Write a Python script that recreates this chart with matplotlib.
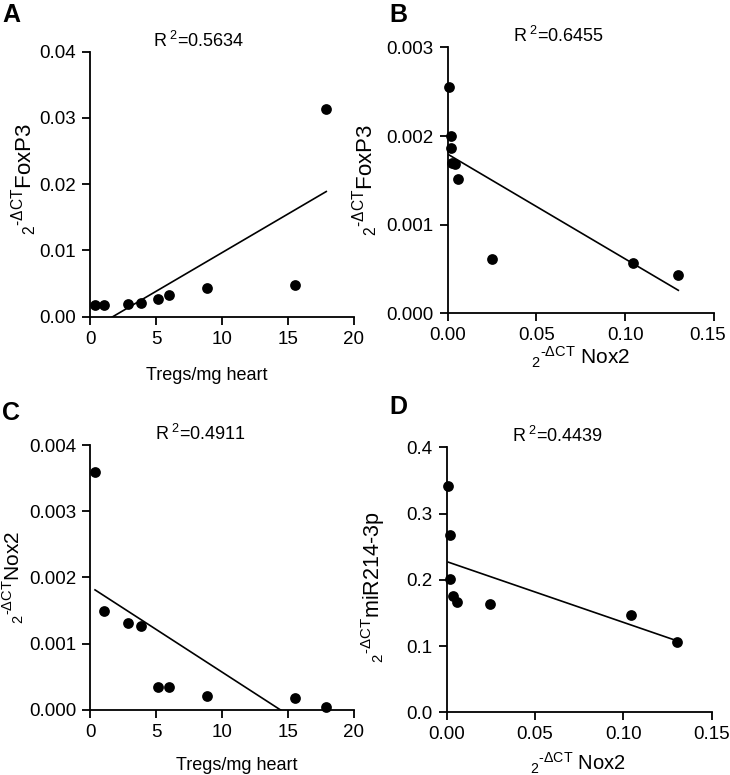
import numpy as np
import matplotlib
matplotlib.use("Agg")
import matplotlib.pyplot as plt
import matplotlib.transforms as mtransforms

plt.rcParams['font.family'] = ['Liberation Sans', 'DejaVu Sans']
plt.rcParams['mathtext.fontset'] = 'custom'
plt.rcParams['mathtext.rm'] = 'Liberation Sans'
plt.rcParams['mathtext.it'] = 'Liberation Sans'
plt.rcParams['mathtext.bf'] = 'Liberation Sans:bold'

# Panel A: Tregs/mg heart vs FoxP3
tregs = [0.38, 1.08, 2.9, 3.9, 5.12, 6.0, 8.85, 15.5, 17.9]
foxp3_a = [0.00176, 0.00176, 0.0019, 0.0020, 0.0026, 0.0032, 0.0044, 0.0048, 0.0314]

# Panel B: Nox2 vs FoxP3
nox2_b = [0.0007, 0.0017, 0.0017, 0.0023, 0.0041, 0.0060, 0.0248, 0.1042, 0.1299]
foxp3_b = [0.00255, 0.00200, 0.001865, 0.00169, 0.00168, 0.00151, 0.000609, 0.000568, 0.000432]

# Panel C: Tregs/mg heart vs Nox2
nox2_c = [0.0036, 0.0015, 0.00131, 0.00127, 0.00035, 0.00034, 0.00021, 0.00018, 0.00005]

# Panel D: Nox2 vs miR214-3p
nox2_d = [0.0009, 0.0019, 0.0019, 0.0037, 0.0060, 0.0245, 0.1043, 0.1306]
mir214 = [0.3417, 0.2672, 0.2008, 0.1756, 0.1665, 0.1640, 0.1464, 0.1067]

r2_labels = ['0.5634', '0.6455', '0.4911', '0.4439']
panel_letters = ['A', 'B', 'C', 'D']

fig = plt.figure(figsize=(7.3, 7.75), dpi=100)

rects = [
    [0.1233, 0.5914, 0.3616, 0.3419],
    [0.6133, 0.5957, 0.3648, 0.3432],
    [0.1233, 0.0839, 0.3616, 0.3419],
    [0.6119, 0.0809, 0.3630, 0.3419],
]

specs = [
    dict(x=tregs, y=foxp3_a, xlim=(0, 20), ylim=(0, 0.04), xt=[0, 5, 10, 15, 20],
         yt=[0, 0.01, 0.02, 0.03, 0.04], xf='{:.0f}', yf='{:.2f}'),
    dict(x=nox2_b, y=foxp3_b, xlim=(0, 0.15), ylim=(0, 0.003), xt=[0, 0.05, 0.10, 0.15],
         yt=[0, 0.001, 0.002, 0.003], xf='{:.2f}', yf='{:.3f}'),
    dict(x=tregs, y=nox2_c, xlim=(0, 20), ylim=(0, 0.004), xt=[0, 5, 10, 15, 20],
         yt=[0, 0.001, 0.002, 0.003, 0.004], xf='{:.0f}', yf='{:.3f}'),
    dict(x=nox2_d, y=mir214, xlim=(0, 0.15), ylim=(0, 0.4), xt=[0, 0.05, 0.10, 0.15],
         yt=[0, 0.1, 0.2, 0.3, 0.4], xf='{:.2f}', yf='{:.1f}'),
]

ylabels = [
    r'$\mathregular{_{2}{}^{\text{-}\Delta CT}FoxP3}$',
    r'$\mathregular{_{2}{}^{\text{-}\Delta CT}FoxP3}$',
    r'$\mathregular{_{2}{}^{\text{-}\Delta CT}Nox2}$',
    r'$\mathregular{_{2}{}^{\text{-}\Delta CT}miR214\text{-}3p}$',
]
xlabels = [
    'Tregs/mg heart',
    r'$\mathregular{_{2}{}^{\text{-}\Delta CT}\ Nox2}$',
    'Tregs/mg heart',
    r'$\mathregular{_{2}{}^{\text{-}\Delta CT}\ Nox2}$',
]
xlabel_size = [13, 15, 13, 14.5]
ylabel_size = [16, 16, 15, 15.5]
ylabel_xy = [(-0.193, 0.52), (-0.254, 0.5), (-0.243, 0.5), (-0.225, 0.473)]
xlabel_xy = [(0.443, -0.19), (0.50, -0.119), (0.557, -0.177), (0.495, -0.146)]
r2_pos = [(0.413, 1.018), (0.416, 1.021), (0.417, 1.019), (0.42, 1.021)]
letter_pos = [(2 / 730, 1 - 3 / 775), (389 / 730, 1 - 3 / 775),
              (2 / 730, 1 - 401 / 775), (389 / 730, 1 - 395 / 775)]

for i, (rect, sp) in enumerate(zip(rects, specs)):
    ax = fig.add_axes(rect)
    x = np.array(sp['x']); y = np.array(sp['y'])
    ax.scatter(x, y, s=60, color='black', zorder=3, clip_on=False, linewidths=0)
    k, b = np.polyfit(x, y, 1)
    xx = np.array([x.min(), x.max()])
    ax.plot(xx, k * xx + b, color='black', lw=1.2, zorder=2)
    ax.set_xlim(*sp['xlim']); ax.set_ylim(*sp['ylim'])
    ax.set_xticks(sp['xt']); ax.set_yticks(sp['yt'])
    ax.set_xticklabels([sp['xf'].format(v) for v in sp['xt']])
    ax.set_yticklabels([sp['yf'].format(v) for v in sp['yt']])
    for s in ['top', 'right']:
        ax.spines[s].set_visible(False)
    for s in ['left', 'bottom']:
        ax.spines[s].set_linewidth(1.3)
    ax.tick_params(direction='out', length=6, width=1.3, labelsize=13.5, pad=4)
    if i == 1:
        lbl = ax.get_xticklabels()[-1]
        lbl.set_transform(lbl.get_transform() +
                          mtransforms.ScaledTranslation(-6 / 100, 0, fig.dpi_scale_trans))
    ax.set_xlabel(xlabels[i], fontsize=xlabel_size[i], va='top')
    ax.xaxis.set_label_coords(*xlabel_xy[i])
    ax.set_ylabel(ylabels[i], fontsize=ylabel_size[i])
    ax.yaxis.set_label_coords(*ylabel_xy[i])
    ax.text(r2_pos[i][0], r2_pos[i][1], r'R$^{\ 2}$=' + r2_labels[i], transform=ax.transAxes,
            ha='center', va='baseline', fontsize=13)
    fig.text(letter_pos[i][0], letter_pos[i][1], panel_letters[i], fontsize=18,
             fontweight='bold', ha='left', va='top')

fig.savefig('out.png', dpi=100)
